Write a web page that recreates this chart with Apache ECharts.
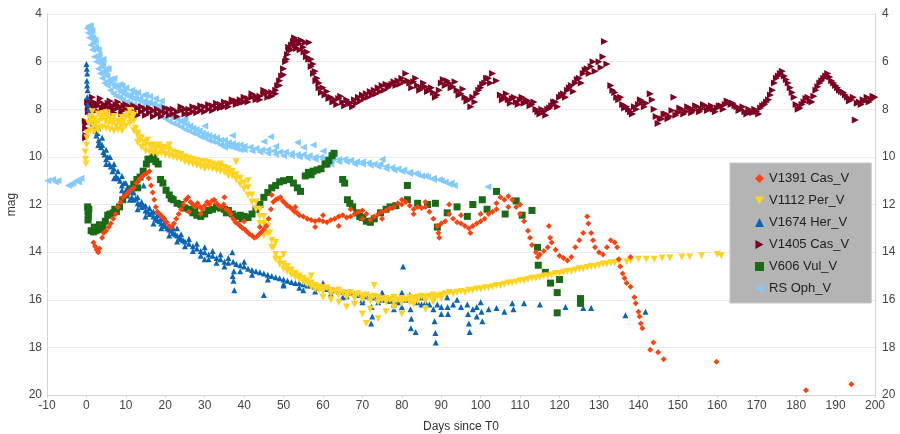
<!DOCTYPE html>
<html>
<head>
<meta charset="utf-8">
<script src="https://cdn.jsdelivr.net/npm/echarts@6/dist/echarts.min.js"></script>
<style>
html,body{margin:0;padding:0;background:#fff;}
#chart{width:900px;height:434px;}
</style>
</head>
<body>
<div id="chart"></div>
<script>
// ---- data (day since T0, magnitude) ----
const seriesNames = ["V1391 Cas_V","V1112 Per_V","V1674 Her_V","V1405 Cas_V","V606 Vul_V","RS Oph_V"];
const xRange = [-10, 200, 10];
const yRange = [4, 20, 2];

const rsOph = [[-9.8,11.0],[-8.6,10.95],[-7.9,11.05],[-7.2,11.0],[-4.6,11.2],[-4.0,11.15],[-3.4,11.1],[-2.6,11.0],[-2.0,11.05],[-1.4,10.9],
[0.2,4.6],[0.5,4.5],[0.8,4.55],[1.0,4.7],[1.2,4.85],[1.4,4.7],[1.6,5.0],[1.8,5.2],[2.0,5.1],[2.3,5.4],[2.6,5.5],[2.9,5.8],[3.2,5.7],[3.5,6.0],[3.8,6.2],[4.1,6.1],[4.4,6.4],[4.8,6.5],[5.2,6.6],[5.6,6.8],[6.0,6.75],[6.5,6.9],[7.0,7.0],[7.5,7.1],[8.0,7.05],[8.5,7.25],[9.0,7.3],[9.5,7.2],[10.0,7.4],[10.6,7.45],[11.2,7.4],[11.8,7.55],[12.4,7.5],[13.0,7.6],[13.6,7.55],[14.2,7.7],[14.8,7.65],[15.4,7.75],[16.0,7.7],[16.6,7.8],[17.2,7.75],[17.8,7.9],[18.4,7.85],[19.0,7.95],[19.6,8.0],[20.2,8.1],[20.8,8.15],[21.5,8.3],[22.2,8.35],[23.0,8.4],[23.8,8.5],[24.6,8.55],[25.4,8.65],[26.2,8.7],[27.0,8.8],[27.8,8.85],[28.6,8.9],[29.4,9.0],[30.2,9.05],[31.0,9.1],[32.0,9.15],[33.0,9.2],[34.0,9.3],[35.0,9.3],[36.0,9.4],[37.0,9.45],[38.0,9.5],[39.0,9.5],[40.0,9.55],[41.5,9.6],[43.0,9.65],[44.5,9.7],[46.0,9.7],[47.5,9.75],[49.0,9.8],[50.5,9.8],[52.0,9.85],[53.5,9.9],[55.0,9.9],[56.5,9.95],[58.0,10.0],[59.5,10.0],[61.0,10.05],[62.5,10.05],[64.0,10.1],[65.5,10.1],[67.0,10.15],[68.5,10.2],[70.0,10.2],[71.5,10.25],[73.0,10.3],[74.5,10.3],[76.0,10.4],[77.5,10.45],[79.0,10.5],[80.5,10.55],[82.0,10.65],[83.5,10.7],[85.0,10.8],[86.5,10.85],[88.0,10.9],[89.5,10.95],[91.0,11.05],[92.5,11.1],[93.3,11.2],[101.8,11.25],
[25,8.4],[30,8.7],[37,9.1],[45,9.35],[55,9.6],[60,9.75],[5.0,6.3],[9,7.0],[12,7.3],[15,7.4],[35,9.6],[62,10.3],[75,10.1],[48,9.55],[46.7,9.15],[53.5,9.4],[57.5,9.5],
[0.4,4.8],[0.7,5.0],[1.1,5.3],[1.5,5.5],[2.0,5.8],[2.5,6.0],[3.0,6.3],[3.5,6.5],[4.0,6.7],[4.6,6.9],[5.3,7.0],[6.0,7.2],[6.8,7.35],[7.6,7.45],[8.4,7.5],[9.2,7.6],[10.2,7.7],[11,7.75],[12,7.8],[13,7.85],[14,7.9],[15,7.95],[16,8.05],[17,8.1],[18,8.2],[19,8.3],[20,8.4],[21,8.5],[22,8.6],[23,8.65],[24,8.75],[25,8.85],[26,8.9],[27,9.0],[28,9.05],[29,9.15],[30,9.2],[31,9.3],[32,9.35],[33,9.4],[34,9.5],[35,9.5],[36,9.55],[37,9.6],[38,9.65],[39,9.7],[40,9.7],[42,9.75],[44,9.8],[46,9.85],[48,9.9],[50,9.95],[52,9.95],[54,10.0],[56,10.05],[58,10.1],[60,10.1],[62,10.15],[64,10.2],[66,10.2],[68,10.3],[70,10.3],[72,10.35],[74,10.4],[76,10.5],[78,10.55],[80,10.6],[82,10.7],[84,10.75],[86,10.8],[88,10.95],[90,11.0],[92,11.15],
[1.0,4.5],[2.2,5.1],[3.0,5.5],[4.2,5.9],[5.5,6.3],[7,6.7],[8.5,6.95],[10,7.1],[11.5,7.2],[13,7.3],[14.5,7.4],[16,7.45],[17.5,7.55],[19,7.65]];

const v1405Cas = [[-0.3,8.5],[-0.2,8.8],[-0.1,9.1],[0,8.6],[-0.2,9.2],[0.3,7.7],[0.5,7.9],[0.8,7.6],[1.2,7.8],[1.6,7.7],[2.0,7.9],[2.5,7.75],[3.0,7.85],[3.5,7.7],[4,7.95],[4.5,7.8],[5,7.9],[5.5,7.75],[6,7.95],[6.5,7.85],[7,8.0],[7.5,7.8],[8,7.95],[8.5,7.9],[9,8.05],[9.5,7.85],[10,8.0],[11,7.9],[12,8.1],[13,7.95],[14,8.1],[15,8.0],[16,8.15],[17,8.05],[18,8.2],[19,8.1],[20,8.15],[21,8.0],[22,8.2],[23,8.1],[24,8.05],[25,8.2],[26,8.0],[27,8.1],[28,7.95],[29,8.05],[30,7.9],[31,8.0],[32,7.85],[33,7.95],[34,7.8],[35,7.9],[36,7.75],[37,7.7],[38,7.8],[39,7.6],[40,7.7],[41,7.55],[42,7.5],[43,7.6],[44,7.45],[45,7.35],[46,7.5],[47,7.3],[48,7.2],[48.5,7.0],[49,6.8],[49.5,6.6],[50,6.3],[50.5,6.0],[51,5.7],[51.5,5.5],[52,5.3],[52.5,5.15],[53,5.3],[53.5,5.1],[54,5.25],[54.5,5.1],[55,5.4],[55.5,5.2],[56,5.6],[56.5,5.2],[57,5.9],[57.5,6.1],[58,6.4],[58.5,6.7],[59,6.9],[60,7.1],[61,7.25],[62,7.5],[63,7.6],[64,7.55],[65,7.7],[66,7.6],[67,7.75],[68,7.6],[69,7.5],[70,7.4],[71,7.35],[72,7.25],[73,7.2],[74,7.1],[75,7.0],[76,6.95],[77,7.0],[78,6.85],[79,6.8],[80,6.7],[81,6.5],[81.5,6.8],[82,6.9],[83,6.85],[84,7.0],[85,7.1],[86,7.05],[87,7.2],[88,7.3],[89,7.4],[90,6.9],[90.5,6.75],[91,7.0],[92,6.9],[93,7.05],[94,7.2],[95,7.35],[96,7.5],[97,7.6],[97.5,7.9],[98,7.5],[99,7.35],[100,7.1],[101,6.9],[102,6.7],[103,6.5],[104,6.8],[105,7.4],[106,7.5],[107,7.6],[108,7.55],[109,7.7],[110,7.6],[111,7.75],[112,7.65],[113,7.8],[114,8.0],[115,8.2],[116,8.1],[117,8.0],[118,7.85],[119,7.7],[120,7.5],[121,7.35],[122,7.2],[123,7.0],[124,6.9],[125,6.7],[126,6.5],[127,6.3],[128,6.2],[129,6.4],[130,6.0],[131,5.8],[131.4,5.15],[132,6.1],[133,7.0],[134,7.3],[135,7.6],[136,7.8],[137,7.9],[138,8.1],[139,7.9],[140,7.8],[141,7.7],[142,7.75],[143,7.35],[144,8.0],[145,8.6],[146,8.4],[147,8.2],[148,8.3],[149,7.5],[150,8.15],[151,8.0],[152,8.1],[153,7.95],[154,8.05],[155,7.9],[156,8.0],[157,7.85],[158,7.95],[159,8.0],[160,7.95],[161,7.85],[162,7.8],[163,7.7],[164,7.75],[165,7.9],[166,8.0],[167,8.1],[168,8.0],[169,8.15],[170,8.1],[171,7.95],[172,7.8],[173,7.6],[174,7.2],[175,6.7],[176,6.5],[177,6.6],[178,6.9],[179,7.3],[180,7.8],[181,7.95],[182,7.7],[183,7.5],[184,7.7],[185,7.2],[186,6.9],[187,6.7],[188,6.5],[189,6.8],[190,7.0],[191,7.2],[192,7.3],[193,7.5],[194,7.6],[195,8.45],[195.5,7.75],[196,7.7],[197,7.6],[198,7.5],[199,7.6],[200,7.5],
[0.5,8.1],[1.5,7.5],[2.5,8.05],[3.5,7.55],[5,8.1],[6,7.65],[7,8.15],[8,7.7],[9,8.2],[10,7.8],[11,8.15],[12,7.85],[13,8.25],[14,7.9],[15,8.25],[16,7.95],[17,8.3],[18,8.0],[19,8.3],[20,7.95],[21,8.25],[22,8.0],[23,8.3],[24,7.9],[25,8.0],[26,8.2],[27,7.9],[28,8.15],[29,7.85],[30,8.1],[31,7.8],[32,8.05],[33,7.75],[34,7.95],[35,7.7],[36,7.9],[37,7.6],[38,7.65],[39,7.75],[40,7.5],[41,7.7],[42,7.35],[43,7.45],[44,7.6],[45,7.2],[46,7.3],[47,7.45],[48,7.35],[49,7.0],[50,6.55],[50.8,5.9],[51.3,5.4],[52,5.5],[52.8,5.0],[53.3,5.45],[54.2,5.5],[55.2,5.6],[55.8,5.8],[56.4,5.9],[57,6.2],[57.6,6.5],[58.2,6.8],[59,7.1],[59.6,7.3],[60.5,7.4],[61.5,7.55],[62.5,7.7],[63.5,7.8],[64.5,7.45],[65.5,7.85],[66.5,7.7],[67.5,7.9],[68.5,7.75],[69.5,7.65],[70.5,7.55],[71.5,7.5],[72.5,7.4],[73.5,7.35],[74.5,7.25],[75.5,7.2],[76.5,7.1],[77.5,6.95],[78.5,7.0],[79.5,6.95],[80.5,6.85],[82.5,7.1],[83.5,6.7],[84.5,7.2],[85.5,6.9],[86.5,7.25],[87.5,7.1],[88.5,7.5],[89.5,7.2],[91.5,6.8],[92.5,7.1],[93.5,6.85],[94.5,7.4],[95.5,7.15],[96.5,7.65],[98.5,7.7],[99.5,7.2],[100.5,6.95],[101.5,6.7],[102.5,6.9],[105.5,7.6],[106.5,7.35],[107.5,7.75],[108.5,7.5],[109.5,7.8],[110.5,7.5],[111.5,7.6],[112.5,7.85],[113.5,7.7],[114.5,8.1],[115.5,8.0],[116.5,8.25],[117.5,7.95],[118.5,7.7],[119.5,7.9],[120.5,7.4],[121.5,7.5],[122.5,7.1],[123.5,7.25],[124.5,6.75],[125.5,6.9],[126.5,6.35],[127.5,6.5],[128.5,6.0],[130.5,6.25],[133.5,7.2],[134.5,7.5],[135.5,7.5],[136.5,7.95],[137.5,8.0],[138.5,8.2],[139.5,8.0],[140.5,7.6],[141.5,7.9],[143.5,7.6],[144.5,8.3],[145.5,8.4],[146.5,8.2],[147.5,8.4],[148.5,8.05],[149.5,8.25],[150.5,7.95],[151.5,8.2],[152.5,7.9],[153.5,8.15],[154.5,7.85],[155.5,8.1],[156.5,7.8],[157.5,8.05],[158.5,7.85],[159.5,8.1],[160.5,7.85],[161.5,8.0],[162.5,7.65],[163.5,7.8],[164.5,7.85],[165.5,8.05],[166.5,7.9],[167.5,8.2],[168.5,8.1],[169.5,8.0],[170.5,8.2],[171.5,7.85],[172.5,7.7],[173.5,7.4],[174.5,6.9],[175.5,6.6],[176.5,6.4],[177.5,6.75],[178.5,7.1],[179.5,7.5],[180.5,8.0],[181.5,7.8],[182.5,7.55],[183.5,7.65],[184.5,7.45],[185.5,7.05],[186.5,6.8],[187.5,6.6],[188.5,6.65],[189.5,6.9],[190.5,7.1],[191.5,7.25],[192.5,7.4],[193.5,7.65],[194.5,7.5],[196.5,7.8],[197.5,7.65],[198.5,7.7],[199.5,7.45]];

const v1112Per = [[-0.3,9.8],[-0.2,10.1],[-0.1,10.3],[0,9.5],[0.1,9.2],[0.3,9.0],[0.6,8.6],[0.9,8.4],[1.2,8.3],[1.5,8.5],[1.8,8.7],[2.1,8.4],[2.5,8.6],[2.8,8.8],[3.2,8.5],[3.6,8.3],[4.0,8.4],[4.4,8.2],[4.8,8.5],[5.2,8.3],[5.6,8.6],[6.0,8.4],[6.5,8.6],[7.0,8.5],[7.5,8.7],[8.0,8.5],[8.5,8.6],[9.0,8.7],[9.5,8.5],[10.0,8.3],[10.5,8.2],[11.0,8.4],[11.5,8.2],[12.0,8.5],[12.5,8.8],[13.0,9.1],[13.5,9.3],[14.0,9.2],[14.5,9.4],[15.0,9.5],[15.5,9.3],[16.0,9.5],[16.5,9.6],[17.0,9.5],[17.5,9.7],[18.0,9.6],[18.5,9.5],[19.0,9.7],[19.5,9.6],[20.0,9.65],[21,9.7],[22,9.8],[23,9.85],[24,9.9],[25,10.0],[26,10.05],[27,10.1],[28,10.15],[29,10.2],[30,10.2],[31,10.25],[32,10.3],[33,10.35],[34,10.4],[35,10.45],[36,10.5],[37,10.6],[38,10.75],[39,10.9],[40,11.1],[41,11.3],[42,11.6],[43,11.9],[44,12.2],[45,12.5],[46,12.9],[46.5,13.2],[47,13.5],[47.5,13.8],[48,14.1],[49,14.3],[50,14.5],[51,14.6],[52,14.75],[53,14.9],[54,15.0],[55,15.1],[56,15.2],[57,15.3],[58,15.4],[59,15.45],[60,15.5],[61,15.5],[62,15.6],[63,15.65],[64,15.6],[65,15.7],[66,15.75],[67,15.7],[68,15.8],[69,15.75],[70,15.85],[71,15.8],[72,15.9],[73,15.85],[74,15.9],[75,16.0],[76,15.95],[77,16.0],[78,15.9],[79,16.0],[80,15.95],[81,16.0],[82,15.9],[83,15.95],[84,15.9],[85,15.85],[86,15.9],[87,15.85],[88,15.8],[89,15.85],[90,15.8],[91,15.75],[92,15.7],[93,15.75],[94,15.7],[95,15.65],[96,15.7],[97,15.6],[98,15.6],[99,15.55],[100,15.55],[101,15.5],[102,15.5],[103,15.45],[104,15.4],[105,15.4],[106,15.35],[107,15.3],[108,15.3],[109,15.25],[110,15.2],[111,15.2],[112,15.15],[113,15.1],[114,15.1],[115,15.05],[116,15.0],[117,15.0],[118,14.95],[119,14.9],[120,14.9],[121,14.85],[122,14.8],[123,14.8],[124,14.75],[125,14.7],[126,14.7],[127,14.65],[128,14.6],[129,14.6],[130,14.55],[131,14.5],[132,14.5],[133,14.45],[134,14.45],[135,14.4],[137,14.4],[138,14.35],[140,14.3],[142,14.3],[144,14.3],[146,14.25],[148,14.25],[151,14.2],[153,14.2],[156,14.15],[160,14.1],[161,14.15],
[66,16.3],[70,16.6],[71,17.0],[72,16.4],[74,16.8],[76,16.5],[78,16.3],[80,16.6],[83,16.2],[86,16.4],[88,16.1],[73,15.4],[60,15.9],[57,15.0],[50,14.1],[44,12.8],[41,11.0],[38,10.2],[13,9.0],[21,9.5],[30,10.5],[34,10.3],[45,13.3],[36,10.8],[48,13.6],[62,16.0],[64,16.1],[68,16.2],
[1,8.9],[2,8.95],[3,8.9],[4,8.75],[5,8.8],[6,8.85],[7,8.9],[8,8.85],[9,8.9],[10,8.7],[11,8.6],[12,8.9],[13,9.4],[14,9.6],[15,9.75],[16,9.8],[17,9.85],[18,9.9],[19,9.85],[20,9.9],[21,9.95],[22,10.0],[23,10.05],[24,10.1],[25,10.2],[26,10.25],[27,10.3],[28,10.35],[29,10.4],[30,10.4],[31,10.45],[32,10.5],[33,10.55],[34,10.6],[35,10.65],[36,10.7],[37,10.8],[38,10.95],[39,11.15],[40,11.35],[41,11.6],[42,11.9],[43,12.2],[44,12.5],[45,12.8],[46,13.2],[47,13.8],[48,14.3],[49,14.5],[50,14.7],[51,14.8],[52,14.95],[53,15.05],[54,15.15],[55,15.25],[56,15.35],[57,15.45],[58,15.55],[59,15.6],[60,15.65],[62,15.75],[64,15.8],[66,15.9],[68,15.95],[70,16.0],[72,16.05],[74,16.1],[76,16.1],[78,16.1],[80,16.15],[82,16.1],[84,16.05],[86,16.05],[88,16.0],[90,15.95],
[1.5,8.1],[3,8.2],[5,8.15],[7,8.3],[9,8.35],[11,8.05],[12,8.25]];

const v1674Her = [[0,6.1],[0.1,6.3],[0.2,6.5],[0.1,6.8],[0.2,7.0],[0.3,7.2],[0.2,7.5],[0.3,7.8],[0.5,8.0],[0.8,8.1],[1.0,8.3],[1.3,8.5],[1.6,8.6],[1.9,8.8],[2.2,8.9],[2.5,9.1],[2.8,9.0],[3.1,9.3],[3.4,9.4],[3.7,9.6],[4.0,9.5],[4.3,9.8],[4.6,9.9],[5.0,10.1],[5.4,10.0],[5.8,10.3],[6.2,10.4],[6.6,10.6],[7.0,10.5],[7.5,10.8],[8.0,10.9],[8.5,11.0],[9.0,11.2],[9.5,11.1],[10.0,11.4],[10.5,11.5],[11.0,11.45],[11.5,11.7],[12.0,11.8],[12.5,11.75],[13.0,11.95],[13.5,12.0],[14.0,12.1],[14.5,12.05],[15.0,12.25],[15.5,12.3],[16.0,12.4],[16.5,12.35],[17.0,12.5],[17.5,12.6],[18.0,12.65],[18.5,12.7],[19.0,12.8],[19.5,12.85],[20.0,12.9],[20.5,13.0],[21.0,13.05],[21.5,13.1],[22.0,13.2],[22.5,13.25],[23.0,13.3],[23.5,13.4],[24.0,13.45],[24.5,13.5],[25.0,13.55],[26.0,13.65],[27.0,13.75],[28.0,13.85],[29.0,13.95],[30.0,14.0],[31.0,14.1],[32.0,14.15],[33.0,14.25],[34.0,14.3],[35.0,14.4],[36.0,14.45],[37.0,14.0],[37.2,14.4],[37.4,14.8],[37.3,15.2],[37.5,15.6],[37.1,15.0],[38,14.5],[39,14.55],[40,14.6],[41,14.7],[42,14.75],[43,14.8],[44,14.85],[45,14.9],[46,14.95],[47,15.0],[48,15.05],[49,15.1],[50,15.15],[51,15.2],[52,15.25],[53,15.3],[54,15.3],[55,15.35],[56,15.4],[57,15.4],[58,15.45],[59,15.5],[60,15.5],[61,15.55],[62,15.6],[63,15.6],[64,15.65],[65,15.65],[66,15.7],[67,15.7],[68,15.75],[69,15.8],[70,15.8],[71,15.85],[72,15.9],[72.3,16.3],[72.5,16.7],[72.2,17.0],[73,15.9],[74,15.95],[75,16.0],[76,16.0],[77,16.05],[78,16.1],[79,16.1],[80,15.7],[80.3,14.6],[81,16.0],[82,15.8],[82.2,16.4],[82.4,16.8],[82.3,17.2],[83.5,17.35],[84,16.1],[85,16.2],[86,16.1],[87,16.2],[88,16.4],[88.3,16.9],[88.5,17.4],[88.6,17.8],[89,16.2],[90,16.3],[91.5,15.9],[91.6,16.3],[91.7,16.6],[93,16.2],[95,16.3],[96.6,16.2],[96.8,16.6],[97,17.0],[97.2,17.35],[98,16.4],[99,16.3],[100,16.1],[100.2,16.5],[100.4,16.9],[102,16.4],[104,16.35],[106,16.5],[108,16.15],[108.3,16.4],[111,16.15],[115,16.2],[121.5,16.3],[126,16.35],[128,16.35],[136.7,16.65],[141.8,16.5],
[14.5,11.2],[23,13.0],[45,15.8],[30,14.3],[40,14.4],[50,15.4],[55,15.6],[60,15.3],[65,15.9],[70,16.1],[75,15.7],[78,16.4],[85,15.9],[80,16.3],[90,16.6],[94,16.0],[99,16.7],
[2,8.5],[3,8.8],[4,9.2],[5,9.7],[6,10.0],[7,10.3],[8,10.6],[9,10.8],[10,11.1],[11,11.3],[12,11.5],[13,11.7],[14,11.9],[15,12.05],[16,12.15],[17,12.3],[18,12.45],[19,12.6],[20,12.7],[22,13.0],[24,13.25],[26,13.45],[28,13.65],[30,13.8],[32,13.95],[34,14.1],[36,14.25],
[3,9.5],[5,10.3],[7,10.9],[9,11.4],[11,11.8],[13,12.2],[15,12.5],[17,12.8],[19,13.0],[21,13.3],[23,13.55],[25,13.75],[27,13.95],[29,14.15],[31,14.3],[33,14.45],[35,14.6],[39,14.8],[42,14.95],[46,15.15],[50,15.35],[54,15.5],[58,15.65],[62,15.75],[66,15.85],[70,16.0],[74,16.1],[78,16.2]];

const v1391Cas = [[1.8,13.6],[2.2,13.75],[2.6,13.9],[3.0,14.0],[3.3,13.85],[4.0,13.4],[4.4,13.2],[5.0,13.1],[5.7,12.95],[6.2,12.8],[6.8,12.6],[7.4,12.4],[8.0,12.1],[8.7,11.9],[9.3,11.7],[10.0,11.6],[10.6,11.5],[11.2,11.4],[12.0,11.3],[12.7,11.1],[13.4,10.95],[14.0,10.85],[14.6,10.75],[15.2,10.7],[15.8,10.9],[16.4,11.2],[16.8,11.5],[17.2,11.8],[17.6,12.1],[18.0,12.3],[18.6,12.4],[19.2,12.5],[19.8,12.6],[20.4,12.75],[21.0,12.9],[21.6,12.95],[22.2,12.8],[22.8,12.6],[23.4,12.4],[24.0,12.2],[24.6,12.0],[25.2,11.8],[25.8,11.7],[26.4,11.9],[27.0,12.0],[27.6,12.1],[28.2,11.95],[28.8,12.1],[29.4,12.2],[30,12.05],[30.6,11.9],[31.2,12.0],[31.8,11.85],[32.4,11.8],[33,11.95],[33.6,12.05],[34.2,12.1],[34.8,12.0],[35.4,12.2],[36,12.25],[36.6,12.4],[37.2,12.6],[37.8,12.75],[38.4,12.8],[39,12.9],[39.6,13.0],[40.2,13.05],[40.8,13.15],[41.4,13.25],[42,13.3],[42.6,13.4],[43.2,13.35],[43.8,13.25],[44.4,13.15],[45,13.05],[45.6,12.9],[46.2,12.6],[46.8,12.2],[47.4,11.9],[48,11.8],[48.6,11.75],[49.2,11.7],[49.8,11.85],[50.4,11.95],[51,12.05],[51.6,12.1],[52.2,12.2],[52.8,12.3],[53.4,12.35],[54,12.45],[55,12.5],[56,12.6],[57,12.65],[58,12.7],[59,12.65],[60,12.7],[61,12.75],[62,12.65],[63,12.6],[64,12.5],[65,12.45],[66,12.55],[67,12.5],[68,12.4],[69,12.3],[70,12.25],[71,12.4],[72,12.65],[73,12.5],[74,12.4],[75,12.3],[76,12.25],[77,12.15],[78,12.1],[79,11.95],[80,11.8],[81,11.9],[82,12.05],[83,12.2],[84,12.1],[85,12.15],[86,12.1],[87,12.3],[88,12.6],[89,12.9],[89.3,13.2],[89.5,13.4],[90,12.8],[91,12.7],[92,12.4],[93,12.6],[94,12.75],[95,12.8],[96,12.9],[97,13.0],[97.4,13.2],[98,12.9],[99,12.8],[100,12.7],[101,12.6],[102,12.4],[103,12.3],[104,11.95],[105,11.7],[106,11.8],[107,11.65],[108,11.8],[109,12.1],[110,12.4],[111,12.7],[112,13.1],[112.5,13.4],[113,13.7],[114,14.0],[114.5,14.2],[115,14.1],[116,13.95],[117,13.8],[117.3,12.9],[117.6,13.4],[118,13.6],[119,13.9],[120,14.15],[121,14.25],[122,14.35],[123,14.2],[124,13.8],[125,13.5],[126,13.2],[127,12.5],[127.3,12.8],[128,13.2],[128.5,13.5],[129,13.8],[130,14.0],[131,14.1],[132,13.8],[133,13.5],[134,13.6],[134.6,13.8],[135,14.3],[135.4,14.6],[136,14.9],[136.5,15.1],[137,15.3],[138,15.45],[138,14.2],[139,15.9],[139.3,16.15],[140,16.5],[140.3,16.7],[140.6,17.0],[141,17.2],[143,18.1],[143.8,17.8],[145,18.2],[146.4,18.5],[159.8,18.6],[182.5,19.8],[194,19.55],
[16,10.6],[26,12.3],[29,12.4],[35,11.7],[40,12.7],[44,12.95],[47,11.6],[53,12.1],[58,12.95],[60,12.45],[64,12.9],[67,12.2],[70,12.6],[75,12.6],[80,12.0],[83,12.4],[86,11.9],[92,12.0],[95,12.45],[100,12.4],[104,12.2],[107,12.1],[110,12.0]];

const v606Vul = [[0.3,12.1],[0.4,12.3],[0.5,12.5],[0.4,12.65],[0.6,12.2],[1.2,13.1],[1.8,13.15],[2.4,13.1],[3.0,13.05],[3.6,13.0],[4.2,12.95],[4.8,12.7],[5.4,12.45],[6.0,12.4],[6.8,12.35],[7.6,12.3],[8.4,12.1],[9.2,11.8],[10.0,11.6],[11.0,11.35],[12.0,11.15],[12.8,10.95],[13.6,10.85],[14.4,10.6],[15.2,10.3],[16.0,10.1],[16.8,10.05],[17.6,10.2],[18.2,10.3],[18.8,10.95],[19.4,11.1],[20.2,11.4],[21.0,11.6],[22.0,11.8],[23.0,11.95],[24.0,12.0],[25.0,12.15],[26.0,12.2],[27.0,12.35],[28.0,12.45],[29.0,12.5],[30.0,12.4],[31.0,12.25],[32.0,12.2],[33.0,12.1],[34.0,12.15],[35.0,12.2],[36.0,12.25],[37.0,12.4],[38.0,12.5],[39.0,12.45],[40.0,12.5],[41.0,12.55],[42.0,12.4],[43.0,12.2],[44.0,12.0],[45.0,11.7],[46.0,11.5],[47.0,11.3],[48.0,11.2],[50.0,11.0],[51.5,10.95],[52.5,11.1],[53.5,11.3],[54.3,11.45],[55.5,10.8],[56.3,10.65],[57.5,10.6],[58.5,10.55],[59.5,10.5],[60.5,10.3],[61.5,10.15],[62.3,9.95],[62.8,9.85],[65.0,10.95],[65.5,11.1],[66.2,11.8],[66.8,11.95],[67.5,12.1],[68.6,12.35],[70.0,12.55],[72.0,12.75],[73.0,12.6],[74.6,12.35],[76.0,12.2],[77.0,12.1],[78.5,12.05],[81.4,11.2],[81.4,11.8],[84.0,11.95],[86.5,12.0],[88.5,11.95],[89.0,12.95],[91.5,12.35],[94.0,12.1],[96.6,12.5],[98.0,12.0],[100.4,11.8],[101.6,12.2],[104.0,11.45],[106.2,12.4],[109.0,11.85],[110.5,12.45],[113.0,12.25],[114.4,13.8],[114.6,14.55],[116.4,14.85],[117.7,15.3],[119.4,15.7],[119.4,16.55],[120.0,15.15],[125.3,15.95],[125.3,16.15],
[2.0,12.95],[3.3,12.85],[7.2,12.2],[13.0,11.3],[15.6,10.1],[17.2,10.0],[21.5,11.75],[27.5,12.25],[35.5,12.35],[39.5,12.6],[49.0,11.05],[57.0,10.75],[61.0,10.3],[69.3,12.5],[71.0,12.7]];

// ---- chart ----
const TRI_DOWN = 'path://M0,0L10,0L5,9Z';
const TRI_RIGHT = 'path://M0,0L9,5L0,10Z';
const TRI_LEFT = 'path://M9,0L0,5L9,10Z';

function sc(name, data, color, symbol, size) {
  return { name, type: 'scatter', data, symbol, symbolSize: size,
    itemStyle: { color, opacity: 1 }, emphasis: { disabled: true }, silent: true };
}

const chart = echarts.init(document.getElementById('chart'), null, { renderer: 'canvas' });
const FONT = 'Liberation Sans, Arial, sans-serif';
const axisLabelStyle = { color: '#444', fontSize: 12, fontFamily: FONT };
const yCommon = {
  type: 'value', inverse: true, min: yRange[0], max: yRange[1], interval: yRange[2],
  axisLine: { show: true, onZero: false, lineStyle: { color: '#d4d4d4' } },
  axisTick: { show: false },
  splitLine: { show: true, lineStyle: { color: '#ececec' } }
};
chart.setOption({
  animation: false,
  backgroundColor: '#fff',
  grid: { left: 47, right: 25, top: 14, bottom: 39, containLabel: false, outerBoundsMode: 'none' },
  xAxis: {
    type: 'value', min: xRange[0], max: xRange[1], interval: xRange[2],
    name: 'Days since T0', nameLocation: 'middle', nameGap: 26,
    nameTextStyle: { color: '#333', fontSize: 12, fontFamily: FONT },
    axisLine: { show: true, onZero: false, lineStyle: { color: '#d4d4d4' } },
    axisTick: { show: true, length: 3, lineStyle: { color: '#d4d4d4' } },
    axisLabel: Object.assign({ margin: 5 }, axisLabelStyle),
    splitLine: { show: false }
  },
  yAxis: [
    Object.assign({}, yCommon, {
      position: 'left', name: 'mag', nameLocation: 'middle', nameGap: 27,
      nameTextStyle: { color: '#333', fontSize: 12, fontFamily: FONT },
      axisLabel: Object.assign({ margin: 5 }, axisLabelStyle)
    }),
    Object.assign({}, yCommon, {
      position: 'right', splitLine: { show: false },
      axisLabel: Object.assign({ margin: 7 }, axisLabelStyle)
    })
  ],
  legend: {
    orient: 'vertical', left: 730, top: 163,
    data: seriesNames,
    backgroundColor: '#b4b4b4', borderColor: '#c6c6c6', borderWidth: 1,
    padding: [9, 22, 8, 25],
    itemWidth: 9, itemHeight: 9, itemGap: 9,
    textStyle: { color: '#1e1e1e', fontSize: 13, fontFamily: FONT },
    selectedMode: false
  },
  series: [
    sc('RS Oph_V', rsOph, '#83caff', TRI_LEFT, 7),
    sc('V606 Vul_V', v606Vul, '#1a6b16', 'rect', 7),
    sc('V1405 Cas_V', v1405Cas, '#7e0021', TRI_RIGHT, 7),
    sc('V1674 Her_V', v1674Her, '#0a64b8', 'triangle', 6),
    sc('V1112 Per_V', v1112Per, '#ffd320', TRI_DOWN, 7),
    sc('V1391 Cas_V', v1391Cas, '#ff420e', 'diamond', 6)
  ]
});
</script>
</body>
</html>
